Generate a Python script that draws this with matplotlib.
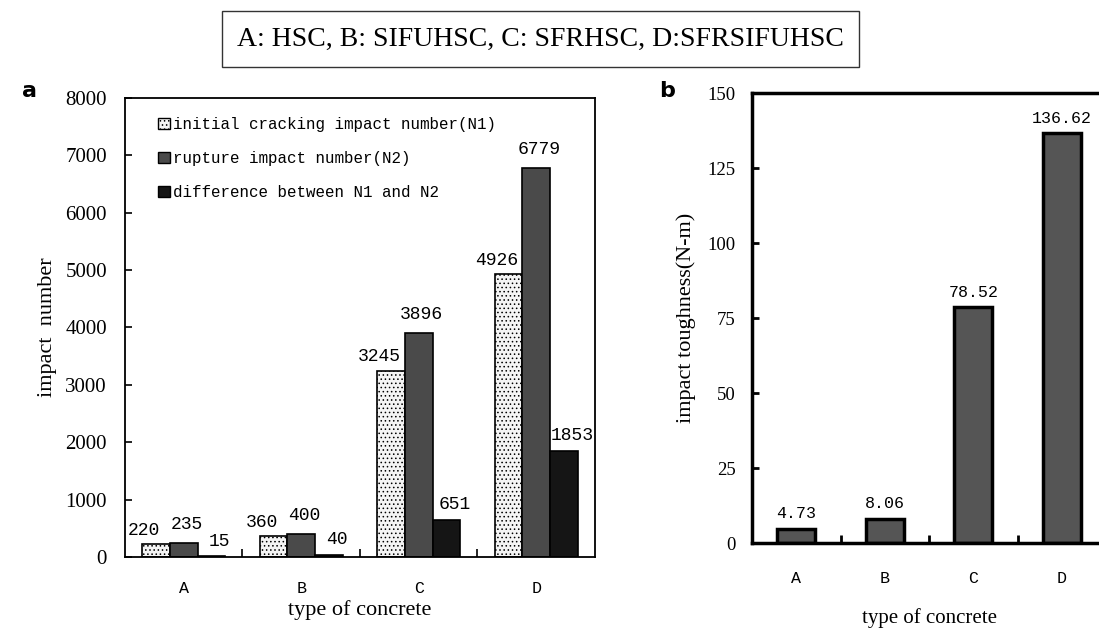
"""Impact number / impact toughness of the four concrete types."""
import matplotlib
matplotlib.use("Agg")
import matplotlib.pyplot as plt
from matplotlib.patches import Patch
import numpy as np

# ---- data -------------------------------------------------------------
concretes = ["A", "B", "C", "D"]
n1_initial = [220, 360, 3245, 4926]        # initial cracking impact number
n2_rupture = [235, 400, 3896, 6779]        # rupture impact number
n_diff = [15, 40, 651, 1853]               # difference between N1 and N2
toughness = [4.73, 8.06, 78.52, 136.62]    # impact toughness (N-m)

series_names = ["initial cracking impact number(N1)",
                "rupture impact number(N2)",
                "difference between N1 and N2"]

SERIF = "Liberation Serif"
MONO = "Liberation Mono"

plt.rcParams["hatch.linewidth"] = 0.6
plt.rcParams["hatch.color"] = "#888888"

fig = plt.figure(figsize=(10.99, 6.29), dpi=100)

# ---- panel a -----------------------------------------------------------
ax = fig.add_axes([0.1137, 0.1145, 0.4277, 0.7297])
x = np.arange(len(concretes))
w = 0.235
styles = [dict(facecolor="#f4f4f4", hatch="....", edgecolor="black"),
          dict(facecolor="#4a4a4a", edgecolor="black"),
          dict(facecolor="#151515", edgecolor="black")]
label_dx = [-12, 3, 8]      # pixel nudges of value labels
label_dy = [14, 19, 15]
for i, vals in enumerate([n1_initial, n2_rupture, n_diff]):
    xs = x + (i - 1) * w
    ax.bar(xs, vals, width=w, linewidth=1.2, **styles[i])
    for xx, v in zip(xs, vals):
        ax.annotate(str(v), (xx, v), xytext=(label_dx[i], label_dy[i]),
                    textcoords="offset pixels", ha="center", va="center",
                    family=MONO, fontsize=13)

ax.set_xlim(-0.5, 3.5)
ax.set_ylim(0, 8000)
ax.set_yticks(np.arange(0, 8001, 1000))
ax.tick_params(axis="y", direction="in", length=5, width=1.2, pad=13,
               labelsize=15)
for t in ax.get_yticklabels():
    t.set_family(SERIF)
ax.set_xticks(x, concretes)
ax.set_xticks([0.5, 1.5, 2.5], minor=True)
ax.tick_params(axis="x", which="major", length=0, pad=17, labelsize=12)
ax.tick_params(axis="x", which="minor", direction="in", length=6, width=1.2)
for t in ax.get_xticklabels():
    t.set_family(MONO)
for s in ax.spines.values():
    s.set_linewidth(1.3)
ax.set_ylabel("impact  number", family=SERIF, fontsize=16, labelpad=6)
ax.set_xlabel("type of concrete", family=SERIF, fontsize=16, labelpad=3)

handles = [Patch(linewidth=1.0, **styles[i]) for i in range(3)]
ax.legend(handles, series_names, loc="upper left", frameon=False,
          prop={"family": MONO, "size": 11.4}, handlelength=0.75,
          handleheight=0.75, handletextpad=0.2, labelspacing=1.2,
          bbox_to_anchor=(0.04, 0.99))

fig.text(0.02, 0.845, "a", fontsize=16, fontweight="bold", family="DejaVu Sans")

# ---- panel b -----------------------------------------------------------
bx = fig.add_axes([0.6843, 0.1367, 0.3221, 0.7154])
bx.bar(x, toughness, width=0.43, facecolor="#555555", edgecolor="black",
       linewidth=2.5)
for xx, v in zip(x, toughness):
    bx.annotate(f"{v:.2f}", (xx, v), xytext=(0, 15), textcoords="offset pixels",
                ha="center", va="center", family=MONO, fontsize=12)
bx.set_xlim(-0.5, 3.5)
bx.set_ylim(0, 150)
bx.set_yticks(np.arange(0, 151, 25))
bx.tick_params(axis="y", direction="in", length=5, width=2, pad=12,
               labelsize=13.5)
for t in bx.get_yticklabels():
    t.set_family(SERIF)
bx.set_xticks(x, concretes)
bx.set_xticks([0.5, 1.5, 2.5], minor=True)
bx.tick_params(axis="x", which="major", length=0, pad=20, labelsize=12)
bx.tick_params(axis="x", which="minor", direction="in", length=6, width=2)
for t in bx.get_xticklabels():
    t.set_family(MONO)
for s in bx.spines.values():
    s.set_linewidth(2.5)
bx.set_ylabel("impact toughness(N-m)", family=SERIF, fontsize=16, labelpad=8)
bx.set_xlabel("type of concrete", family=SERIF, fontsize=15, labelpad=16)

fig.text(0.600, 0.845, "b", fontsize=16, fontweight="bold", family="DejaVu Sans")

# ---- title box ---------------------------------------------------------
fig.text(0.492, 0.938, "A: HSC, B: SIFUHSC, C: SFRHSC, D:SFRSIFUHSC",
         ha="center", va="center", family=SERIF, fontsize=20,
         bbox=dict(boxstyle="square,pad=0.55", facecolor="white",
                   edgecolor="#333333", linewidth=1.0))

fig.savefig("out.png", dpi=100)
